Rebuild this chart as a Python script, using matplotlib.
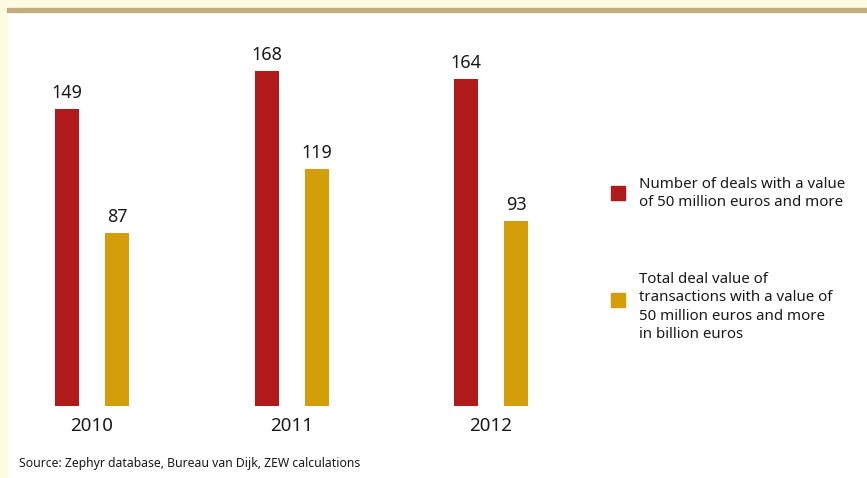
import matplotlib
matplotlib.use("Agg")
import matplotlib.pyplot as plt
import numpy as np
from matplotlib.patches import Rectangle

years = ["2010", "2011", "2012"]
deals = [149, 168, 164]
value = [87, 119, 93]
legend_labels = ["Number of deals with a value\nof 50 million euros and more",
                 "Total deal value of\ntransactions with a value of\n50 million euros and more\nin billion euros"]
source = "Source: Zephyr database, Bureau van Dijk, ZEW calculations"

RED = "#B01A1B"
GOLD = "#D49E0A"
CREAM = "#FFFBE3"
TAN = "#C1AE7F"
TXT = "#1a1a1a"

W, H = 867, 478
fig = plt.figure(figsize=(W / 100, H / 100), dpi=100)
fig.patch.set_facecolor("white")
plt.rcParams['font.family'] = ['Noto Sans', 'DejaVu Sans']

# frame decorations (cream strips + tan rule)
fig.add_artist(Rectangle((0, 0), 7 / W, 1, transform=fig.transFigure, color=CREAM, zorder=0))
fig.add_artist(Rectangle((0, 1 - 9 / H), 1, 9 / H, transform=fig.transFigure, color=CREAM, zorder=0))
fig.add_artist(Rectangle((7 / W, 1 - 12 / H), 1 - 7 / W, 4 / H, transform=fig.transFigure, color=TAN, zorder=1))

# axes in pixel terms: baseline at y=406 px from top, 1 unit ~ 1.994 px
base = 406
scale = 1.994
top = 14
ax = fig.add_axes([0, (H - base) / H, 600 / W, (base - top) / H])
ax.set_ylim(0, (base - top) / scale)
step = 199.5
ax.set_xlim(-92 / step, (600 - 92) / step)
ax.axis("off")

x = np.arange(len(years))
off = 25 / step
bw = 24 / step
ax.bar(x - off, deals, width=bw, color=RED)
ax.bar(x + off, value, width=bw, color=GOLD)

for xi, d, v in zip(x, deals, value):
    ax.annotate(str(d), (xi - off, d), xytext=(0, 5), textcoords="offset points",
                ha="center", va="bottom", fontsize=13, color=TXT)
    ax.annotate(str(v), (xi + off, v), xytext=(0, 5), textcoords="offset points",
                ha="center", va="bottom", fontsize=13, color=TXT)

for xi, yr in zip(x, years):
    ax.annotate(yr, (xi, 0), xytext=(0, -14.5), textcoords="offset points",
                ha="center", va="center", fontsize=13.5, color=TXT)

# legend drawn by hand
leg = [(RED, 193, 193.5, legend_labels[0]), (GOLD, 300, 307, legend_labels[1])]
for col, sq_y, txt_y, lab in leg:
    fig.add_artist(Rectangle((611 / W, 1 - (sq_y + 7) / H), 14 / W, 14 / H,
                             transform=fig.transFigure, color=col))
    fig.text(639 / W, 1 - txt_y / H, lab, ha="left", va="center", fontsize=10.8,
             color=TXT, linespacing=1.3)

fig.text(19 / W, 1 - 463 / H, source, ha="left", va="center", fontsize=8.8, color=TXT)

fig.savefig("out.png", dpi=100)
